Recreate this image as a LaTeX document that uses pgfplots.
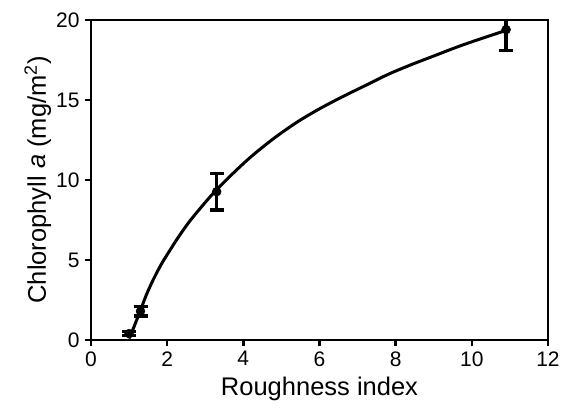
\documentclass[border=0pt]{standalone}
\usepackage{pgfplots}
\pgfplotsset{compat=1.18}
\usepackage{fontspec}
\setmainfont{Liberation Sans}
\begin{document}
\begin{tikzpicture}
\begin{axis}[
  name=ax,
  scale only axis,
  width=457pt, height=320pt,
  xmin=0, xmax=12, ymin=0, ymax=20,
  xtick={0,2,...,12}, ytick={0,5,...,20},
  tick align=outside,
  xtick pos=bottom, ytick pos=left,
  major tick length=6pt,
  tick style={line width=2.4pt, black},
  axis line style={line width=2.8pt},
  /pgf/number format/assume math mode=true,
  ticklabel style={font=\fontsize{21}{24}\selectfont},
  label style={font=\fontsize{25.5}{30}\selectfont},
  xlabel={Roughness index},
  ylabel={Chlorophyll \textit{a} (mg/m\textsuperscript{2})},
  xticklabel style={yshift=-2pt},
  yticklabel style={xshift=-2pt},
  xlabel style={yshift=-4pt},
  ylabel style={yshift=-2pt},
]
\addplot[black, line width=3pt, smooth, tension=0.5] coordinates {
  (1.0,0.1) (1.1,0.65) (1.2,1.25) (1.3,1.85) (1.45,2.8) (1.64,3.8)
  (1.85,4.75) (2.07,5.6) (2.3,6.45) (2.6,7.45) (3.0,8.6) (3.3,9.4)
  (3.7,10.35) (4.2,11.45) (4.8,12.6) (5.4,13.6) (6.0,14.45) (6.6,15.2)
  (7.2,15.9) (7.8,16.6) (8.4,17.2) (9.0,17.75) (9.6,18.3) (10.2,18.8)
  (10.9,19.35)
};
\addplot[black, only marks, mark=*, mark size=4.5pt,
  error bars/.cd, y dir=both, y explicit,
  error bar style={line width=3.4pt, black},
  error mark options={rotate=90, mark size=7pt, line width=3.4pt, black}]
  coordinates {
  (1.0,0.4) +- (0,0.12)
  (1.3,1.8) +- (0,0.3)
  (3.3,9.27) +- (0,1.15)
  (10.9,19.4) +- (0,1.3)
};
\end{axis}
\path ([shift={(-91pt,-70pt)}]ax.south west) rectangle ([shift={(20pt,20pt)}]ax.north east);
\end{tikzpicture}
\end{document}
